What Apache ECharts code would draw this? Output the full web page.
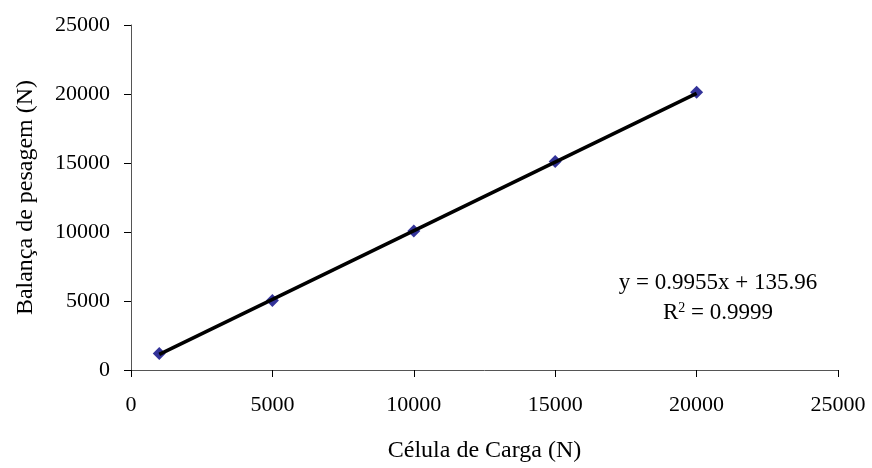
<!DOCTYPE html>
<html>
<head>
<meta charset="utf-8">
<script src="https://cdn.jsdelivr.net/npm/echarts@6/dist/echarts.min.js"></script>
<style>
  html, body { margin: 0; padding: 0; background: #fff; }
  #chart { width: 872px; height: 468px; }
</style>
</head>
<body>
<div id="chart"></div>
<script>
// Load cell readings vs. weighing scale readings (N)
const celulaCarga = [1000, 5000, 10000, 15000, 20000];
const balanca = [1200, 5030, 10070, 15100, 20120];

// Linear trendline reported for the data
const slope = 0.9955;
const intercept = 135.96;
const r2 = 0.9999;

const axisTicks = [0, 5000, 10000, 15000, 20000, 25000];

const FONT = '"Liberation Serif", "Times New Roman", serif';

const points = celulaCarga.map((x, i) => [x, balanca[i]]);
const xMin = Math.min(...celulaCarga);
const xMax = Math.max(...celulaCarga);
const trend = [xMin, xMax].map(x => [x, slope * x + intercept]);

const chart = echarts.init(document.getElementById('chart'), null, { renderer: 'canvas' });

const axisCommon = {
  type: 'value',
  min: axisTicks[0],
  max: axisTicks[axisTicks.length - 1],
  interval: axisTicks[1] - axisTicks[0],
  splitLine: { show: false },
  axisLine: { show: true, lineStyle: { color: '#555', width: 1 } },
  axisTick: { show: true, inside: false, length: 7, lineStyle: { color: '#000', width: 1 } },
  axisLabel: { color: '#000', fontFamily: FONT, fontSize: 22, formatter: v => String(v) },
  nameLocation: 'middle',
  nameTextStyle: { color: '#000', fontFamily: FONT, fontSize: 24 }
};

chart.setOption({
  animation: false,
  backgroundColor: '#fff',
  grid: { left: 131, right: 34, top: 25, bottom: 96, containLabel: false },
  xAxis: Object.assign({}, axisCommon, {
    name: 'Célula de Carga (N)',
    nameGap: 69,
    axisLabel: Object.assign({}, axisCommon.axisLabel, { margin: 24 })
  }),
  yAxis: Object.assign({}, axisCommon, {
    name: 'Balança de pesagem (N)',
    nameGap: 93,
    axisLabel: Object.assign({}, axisCommon.axisLabel, { margin: 21 })
  }),
  series: [
    {
      type: 'scatter',
      data: points,
      symbol: 'diamond',
      symbolSize: 13,
      itemStyle: { color: '#000080' },
      z: 2
    },
    {
      type: 'line',
      data: trend,
      showSymbol: false,
      symbol: 'none',
      lineStyle: { color: '#000', width: 3.5 },
      z: 3
    }
  ],
  graphic: [
    {
      type: 'text',
      x: 718,
      y: 283,
      style: {
        text: 'y = ' + slope.toFixed(4) + 'x + ' + intercept.toFixed(2),
        font: '23px ' + FONT,
        fill: '#000',
        align: 'center',
        verticalAlign: 'middle'
      }
    },
    {
      type: 'text',
      x: 718,
      y: 313,
      style: {
        text: 'R{sup|2} = ' + r2.toFixed(4),
        font: '23px ' + FONT,
        fill: '#000',
        align: 'center',
        verticalAlign: 'middle',
        rich: {
          sup: { fontSize: 14, fontFamily: FONT, verticalAlign: 'top', padding: [0, 0, 10, 0] }
        }
      }
    }
  ]
});
</script>
</body>
</html>
